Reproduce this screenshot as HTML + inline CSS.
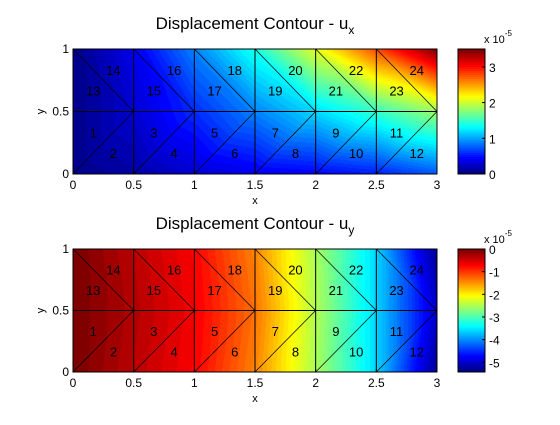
<!DOCTYPE html>
<html><head><meta charset="utf-8"><style>
body{margin:0;background:#fff;width:560px;height:420px;overflow:hidden;font-family:"Liberation Sans",sans-serif}
svg text{font-family:"Liberation Sans",sans-serif}
</style></head><body>
<svg id="fig" width="560" height="420" xmlns="http://www.w3.org/2000/svg"></svg>
<script>
// Data: nodal values on a 7x3 grid (rows y=0,0.5,1; columns x=0..3 step 0.5)
const xNodes=[0,0.5,1,1.5,2,2.5,3];
const yNodes=[0,0.5,1];
const uxRow0=[0.05,0.15,0.3,0.4,0.45,0.55,0.75];
const uxRow1=[0.05,0.3,0.6,0.9,1.2,1.5,1.85];
const uxRow2=[0.05,0.4,0.9,1.4,2.1,2.8,3.5];
const uyRow0=[0,-0.35,-0.7,-1.4,-2.5,-3.6,-5.3];
const uyRow1=[0,-0.3,-0.65,-1.3,-2.45,-3.6,-5.0];
const uyRow2=[0,-0.35,-0.7,-1.4,-2.5,-3.6,-5.3];
const xTicks=[0,0.5,1,1.5,2,2.5,3];
const yTicks=[0,0.5,1];
const cb1Ticks=[0,1,2,3];
const cb2Ticks=[0,-1,-2,-3,-4,-5];
const ns="http://www.w3.org/2000/svg";
const svg=document.getElementById('fig');
function el(t,a,p){const e=document.createElementNS(ns,t);for(const k in a)e.setAttribute(k,a[k]);(p||svg).appendChild(e);return e;}
function jet(t){t=Math.max(0,Math.min(1,t));t=Math.min(63,Math.floor(t*64))/63;
 const r=Math.max(0,Math.min(1,1.5-Math.abs(4*t-3))),g=Math.max(0,Math.min(1,1.5-Math.abs(4*t-2))),b=Math.max(0,Math.min(1,1.5-Math.abs(4*t-1)));
 return [Math.round(r*255),Math.round(g*255),Math.round(b*255)];}
function panel(id,rows,cmin,cmax,ax,cbTicks,title,sub){
 const g=el('g',{});
 
 const X=v=>ax.x0+(v-0)/(3)*(ax.x1-ax.x0), Y=v=>ax.y0-(v)*(ax.y0-ax.y1);
 const W=Math.round(ax.x1-ax.x0),H=Math.round(ax.y0-ax.y1);
 const cv=document.createElement('canvas');cv.width=W;cv.height=H;const ctx=cv.getContext('2d');const im=ctx.createImageData(W,H);
 const val=(i,j)=>rows[j][i];
 for(let py=0;py<H;py++)for(let px=0;px<W;px++){
  const x=(px+0.5)/W*3,y=1-(py+0.5)/H;
  let i=Math.min(5,Math.floor(x/0.5)),j=y<0.5?0:1;
  const u=(x-xNodes[i])/0.5,v=(y-yNodes[j])/0.5;
  const a=val(i,j),b=val(i+1,j),c=val(i,j+1),d=val(i+1,j+1);let f;
  if(j===0){
   if(v>u) f=a+(d-c)*u+(c-a)*v; else f=a+(b-a)*u+(d-b)*v;
  } else {
   if(u+v<1) f=a+(b-a)*u+(c-a)*v; else f=d+(c-d)*(1-u)+(b-d)*(1-v);
  }
  const col=jet((f-cmin)/(cmax-cmin));const k=(py*W+px)*4;im.data[k]=col[0];im.data[k+1]=col[1];im.data[k+2]=col[2];im.data[k+3]=255;}
 ctx.putImageData(im,0,0);
 const img=el('image',{x:ax.x0,y:ax.y1,width:W,height:H,href:cv.toDataURL(),preserveAspectRatio:'none'},g);
 
 const mesh=el('g',{stroke:'#000','stroke-width':1,fill:'none'},g);
 
 for(let i=0;i<6;i++){
  el('line',{x1:X(xNodes[i]),y1:Y(0),x2:X(xNodes[i+1]),y2:Y(0.5),'stroke-width':0.7},mesh);
  el('line',{x1:X(xNodes[i]),y1:Y(1),x2:X(xNodes[i+1]),y2:Y(0.5),'stroke-width':0.7},mesh);
  el('line',{x1:X(xNodes[i]),y1:Y(0),x2:X(xNodes[i]),y2:Y(1)},mesh);
 }
 el('line',{x1:X(0),y1:Y(0.5),x2:X(3),y2:Y(0.5)},mesh);
 let n=1;
 for(let j=0;j<2;j++)for(let i=0;i<6;i++){
  const x0=xNodes[i],y0=yNodes[j];
  const c1=j===0?[x0+0.5/3,y0+1/3]:[x0+0.5/3,y0+0.5/3];
  const c2=j===0?[x0+1/3,y0+0.5/3]:[x0+1/3,y0+1/3];
  [c1,c2].forEach(c=>{const t=el('text',{x:X(c[0]),y:Y(c[1])+5,'font-size':13,'text-anchor':'middle'},g);t.textContent=n;
   n++;});
 }
 el('rect',{x:ax.x0,y:ax.y1,width:ax.x1-ax.x0,height:ax.y0-ax.y1,fill:'none',stroke:'#000'},g);
 xTicks.forEach(v=>{el('line',{x1:X(v),x2:X(v),y1:ax.y0,y2:ax.y0-3,stroke:'#000'},g);
  const t=el('text',{x:X(v),y:ax.y0+15,'font-size':12,'text-anchor':'middle'},g);t.textContent=v;
  });
 yTicks.forEach(v=>{el('line',{x1:ax.x0,x2:ax.x0+3,y1:Y(v),y2:Y(v),stroke:'#000'},g);
  const t=el('text',{x:ax.x0-4,y:Y(v)+4,'font-size':12,'text-anchor':'end'},g);t.textContent=v;
  });
 const xl=el('text',{x:(ax.x0+ax.x1)/2,y:ax.y0+30,'font-size':11,'text-anchor':'middle'},g);xl.textContent='x';
 
 const yl=el('text',{x:40,y:(ax.y0+ax.y1)/2+4,'font-size':11,'text-anchor':'middle',transform:`rotate(-90 40 ${(ax.y0+ax.y1)/2})`},g);yl.textContent='y';
 
 const tt=el('text',{x:(ax.x0+ax.x1)/2,y:ax.y1-20,'font-size':17,'text-anchor':'middle'},g);tt.textContent=title;
 const ts=el('tspan',{'font-size':12,dy:5},tt);ts.textContent=sub;
 
 const cb={x0:458,x1:485};const CY=v=>ax.y0-(v-cmin)/(cmax-cmin)*(ax.y0-ax.y1);
 const cbg=el('g',{},g);
 for(let k=0;k<64;k++){const c=jet((k+0.5)/64);const h=(ax.y0-ax.y1)/64;
  el('rect',{x:cb.x0,y:ax.y0-(k+1)*h,width:cb.x1-cb.x0,height:h+0.5,fill:`rgb(${c})`},cbg);}
 el('rect',{x:cb.x0,y:ax.y1,width:cb.x1-cb.x0,height:ax.y0-ax.y1,fill:'none',stroke:'#000'},cbg);
 cbTicks.forEach(v=>{el('line',{x1:cb.x1-3,x2:cb.x1,y1:CY(v),y2:CY(v),stroke:'#000'},cbg);
  const t=el('text',{x:cb.x1+4,y:CY(v)+5,'font-size':12},cbg);t.textContent=v;
  });
 const ex=el('text',{x:484,y:ax.y1-6,'font-size':11},cbg);ex.textContent='x 10';
 const es=el('tspan',{'font-size':8,dy:-7},ex);es.textContent='-5';
 
}
panel('ux',[uxRow0,uxRow1,uxRow2],0,3.5,{x0:73,x1:437,y0:174,y1:49},cb1Ticks,'Displacement Contour - u','x');
panel('uy',[uyRow0,uyRow1,uyRow2],-5.43,0,{x0:73,x1:437,y0:372,y1:249},cb2Ticks,'Displacement Contour - u','y');
</script>
</body></html>
